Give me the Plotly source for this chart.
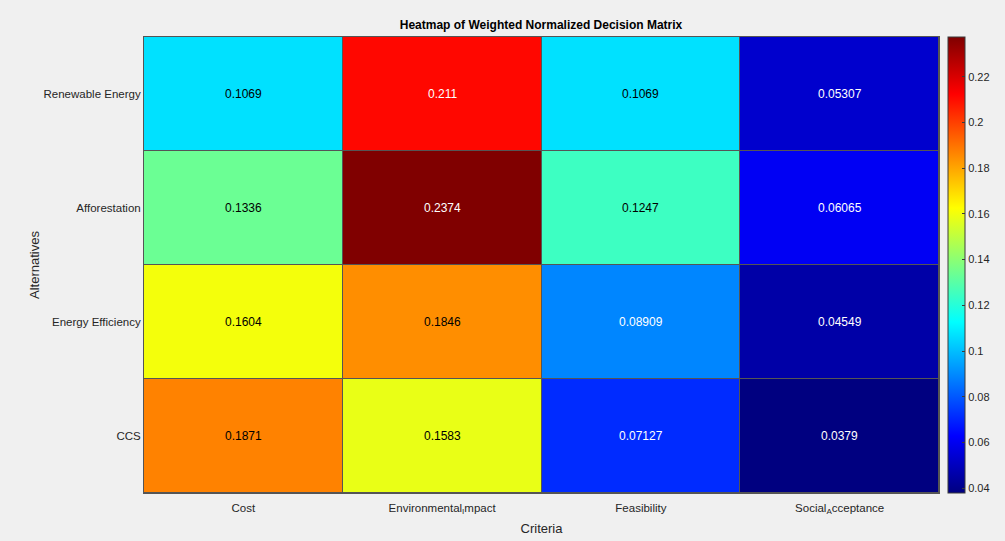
import plotly.graph_objects as go

# Weighted normalized decision matrix (rows = alternatives, columns = criteria)
alternatives = ["Renewable Energy", "Afforestation", "Energy Efficiency", "CCS"]
criteria = ["Cost", "Environmental<sub>I</sub>mpact", "Feasibility", "Social<sub>A</sub>cceptance"]
renewable_energy = [0.1069, 0.211, 0.1069, 0.05307]
afforestation = [0.1336, 0.2374, 0.1247, 0.06065]
energy_efficiency = [0.1604, 0.1846, 0.08909, 0.04549]
ccs = [0.1871, 0.1583, 0.07127, 0.0379]
cell_labels = [
    ["0.1069", "0.211", "0.1069", "0.05307"],
    ["0.1336", "0.2374", "0.1247", "0.06065"],
    ["0.1604", "0.1846", "0.08909", "0.04549"],
    ["0.1871", "0.1583", "0.07127", "0.0379"],
]
cbar_ticks = [0.04, 0.06, 0.08, 0.10, 0.12, 0.14, 0.16, 0.18, 0.20, 0.22]
cbar_ticktext = ["0.04", "0.06", "0.08", "0.1", "0.12", "0.14", "0.16", "0.18", "0.2", "0.22"]

z = [renewable_energy, afforestation, energy_efficiency, ccs]

# MATLAB-style jet colormap anchors
jet_stops = [
    (0.0, (0.0, 0.0, 0.5)),
    (0.125, (0.0, 0.0, 1.0)),
    (0.375, (0.0, 1.0, 1.0)),
    (0.625, (1.0, 1.0, 0.0)),
    (0.875, (1.0, 0.0, 0.0)),
    (1.0, (0.5, 0.0, 0.0)),
]
jet = [[p, "rgb(%d,%d,%d)" % tuple(round(255 * c) for c in rgb)] for p, rgb in jet_stops]


def jet_rgb(t):
    for (p0, c0), (p1, c1) in zip(jet_stops[:-1], jet_stops[1:]):
        if p0 <= t <= p1:
            f = (t - p0) / (p1 - p0) if p1 > p0 else 0
            return tuple(a + (b - a) * f for a, b in zip(c0, c1))
    return jet_stops[-1][1]


zmin = min(min(r) for r in z)
zmax = max(max(r) for r in z)

fig = go.Figure()
fig.add_trace(go.Heatmap(
    z=z,
    x=criteria,
    y=alternatives,
    colorscale=jet,
    zmin=zmin,
    zmax=zmax,
    xgap=1,
    ygap=1,
    hoverinfo="skip",
    colorbar=dict(
        xref="container", x=948 / 1005, xanchor="left",
        yref="paper", y=0.5, yanchor="middle", len=1, lenmode="fraction",
        thickness=17, ypad=0, xpad=0,
        outlinewidth=1, outlinecolor="#3a3a3a",
        tickvals=cbar_ticks, ticktext=cbar_ticktext,
        ticks="inside", ticklen=3, tickcolor="#3a3a3a",
        tickfont=dict(size=11, color="#262626"),
    ),
))

# Value labels inside each cell, dark or light depending on the cell colour
annotations = []
for i, alt in enumerate(alternatives):
    for j, crit in enumerate(criteria):
        v = z[i][j]
        r, g, b = jet_rgb((v - zmin) / (zmax - zmin))
        lum = 0.299 * r + 0.587 * g + 0.114 * b
        annotations.append(dict(
            x=crit, y=alt, text=cell_labels[i][j], showarrow=False,
            font=dict(size=12, color="#000000" if lum > 0.5 else "#ffffff"),
        ))

fig.update_layout(
    width=1005, height=541,
    margin=dict(l=144, r=66, t=37, b=48),
    paper_bgcolor="#f0f0f0",
    plot_bgcolor="#555555",
    font=dict(family="Liberation Sans, Arial, sans-serif", color="#262626", size=12),
    title=dict(
        text="<b>Heatmap of Weighted Normalized Decision Matrix</b>",
        x=541 / 1005, xanchor="center", y=1 - 25 / 541, yanchor="middle",
        font=dict(size=12, color="#000000"),
    ),
    xaxis=dict(
        title=dict(text="Criteria", font=dict(size=13), standoff=8),
        showgrid=False, zeroline=False, ticks="", ticklabelstandoff=4,
        automargin=False,
        showline=True, mirror=True, linecolor="#555555", linewidth=1,
        tickfont=dict(size=11.5),
    ),
    yaxis=dict(
        title=dict(text="Alternatives", font=dict(size=13), standoff=0),
        autorange="reversed", automargin=False,
        showgrid=False, zeroline=False, ticks="",
        showline=True, mirror=True, linecolor="#555555", linewidth=1,
        tickfont=dict(size=11.5),
    ),
    annotations=annotations,
)

fig.write_html("out.html")
